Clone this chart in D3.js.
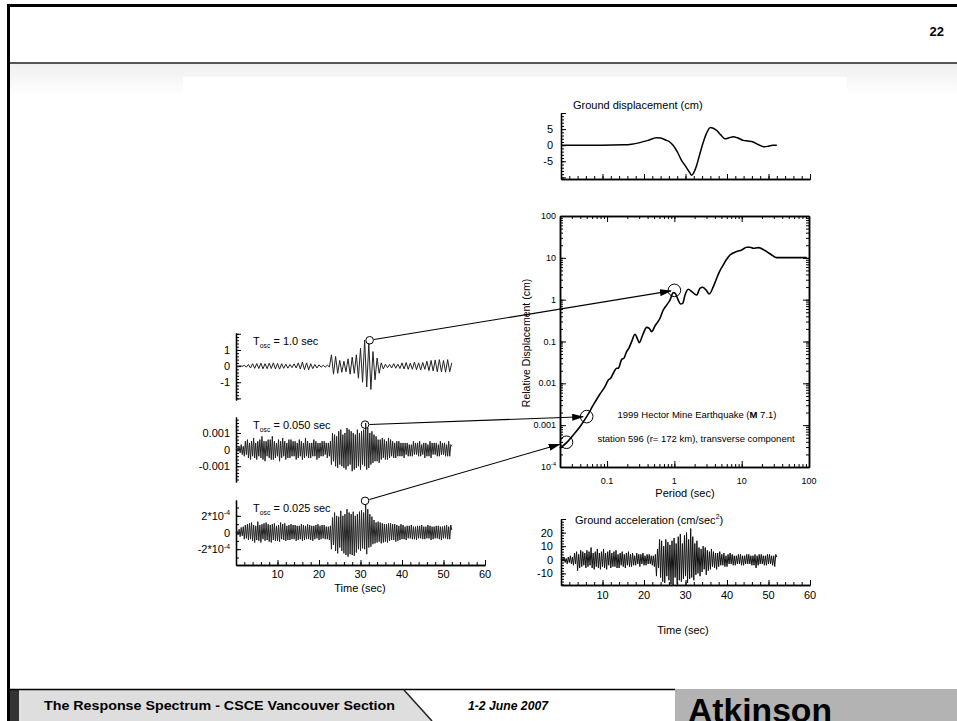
<!DOCTYPE html>
<html><head><meta charset="utf-8">
<script src="https://cdn.jsdelivr.net/npm/d3@7"></script>
<style>body{margin:0;background:#fff}svg{display:block;font-family:"Liberation Sans",Arial,Helvetica,sans-serif}</style>
</head><body><svg id="c" width="957" height="721"></svg>
<script>
// ---------------- DATA ----------------
const timeTicks = [10, 20, 30, 40, 50, 60];
const dtFast = 0.25;   // sample spacing (s) of the dense traces
const dtOsc = 0.5;     // sample spacing (s) of the 1.0 s oscillator trace

// Ground acceleration (cm/s^2)
const groundAccel = [
0,1,-1,2, -2,1,-3,2, -2,3,-3,2, -4,5,-3,6, -8,4,-6,7, -5,6,-4,5, -6,7,-5,6, -4,9,-6,5,
-7,6,-5,8, -6,5,-7,6, -5,8,-6,5, -7,6,-4,7, -6,5,-5,6, -5,7,-6,4, -6,5,-4,6, -5,4,-6,5,
-4,6,-5,4, -5,5,-4,3, -4,5,-3,4, -5,4,-3,5, -4,3,-4,4, -3,4,-3,3, -4,3,-5,4, -12,8,-6,15,
-13,14,-16,10, -17,15,-12,13, -15,11,-18,14, -19,16,-13,12, -18,17,-15,19, -16,12,-14,18, -12,20,-17,15, -14,23,-13,17,
-15,12,-11,14, -10,9,-12,8, -9,10,-7,9, -11,7,-8,6, -7,8,-5,6, -6,5,-7,5, -5,6,-4,4, -4,5,-5,3,
-5,4,-3,5, -3,4,-4,3, -4,3,-3,4, -3,4,-4,3, -4,3,-3,4, -3,4,-3,3, -4,3,-4,4, -6,3,-4,4,
-3,4,-3,3, -4,3,-4,4, -3,4,-3,3, -4,3,-5,4, 2];

// Ground displacement (cm)
const dispTime = [0,5,10,15,17,19,21,23,24,25.4,26,27,28,29,30,31,31.5,32,32.7,33.5,34.3,35,36,37.5,38.5,39.5,40.5,41.5,42.5,43.9,45,46.3,47.5,49.1,50,51,52];
const dispValue = [0,0,0,0.1,0.3,0.8,1.5,2.3,2.2,1.5,1.2,0,-2,-4.6,-6.5,-8.5,-9.3,-8.5,-6.2,-2.5,1,3.5,5.5,4.6,3.2,2,2.3,2.6,2.3,1.5,1.3,1,0.2,-0.5,-0.3,0,0];

// Oscillator response, T = 1.0 s (cm)
const osc100 = [
0,0, 0.02,-0.02, 0.05,-0.06, 0.1,-0.12, 0.15,-0.14, 0.16,-0.15, 0.18,-0.17, 0.15,-0.16, 0.18,-0.15, 0.2,-0.18,
0.17,-0.19, 0.15,-0.14, 0.12,-0.13, 0.1,-0.1, 0.14,-0.12, 0.2,-0.18, 0.25,-0.22, 0.2,-0.23, 0.15,-0.16, 0.1,-0.12,
0.08,-0.07, 0.05,-0.06, 0.06,-0.05, 0.7,-0.5, 0.6,-0.45, 0.35,-0.38, 0.3,-0.35, 0.45,-0.5, 0.55,-0.45, 0.7,-0.75,
1.1,-1.0, 1.6,-1.3, 1.4,-1.45, 0.9,-0.85, 0.5,-0.45, 0.2,-0.18, 0.12,-0.1, 0.1,-0.12, 0.15,-0.13, 0.12,-0.15,
0.2,-0.18, 0.22,-0.2, 0.18,-0.2, 0.25,-0.22, 0.2,-0.24, 0.22,-0.2, 0.3,-0.28, 0.35,-0.3, 0.38,-0.35, 0.4,-0.36,
0.35,-0.38, 0.4,-0.35, 0.2];

// Oscillator response, T = 0.050 s (units of 1e-4 cm)
const osc050Unit = 1e-4;
const osc050 = [
0,1,-1,2, -2,3,-3,2, -4,5,-3,6, -5,4,-6,5, -4,7,-5,4, -6,5,-4,6, -5,8,-6,5, -7,5,-4,6,
-5,6,-6,8, -6,5,-5,4, -4,6,-7,5, -5,7,-4,5, -6,4,-5,6, -5,6,-4,5, -4,5,-6,4, -5,6,-4,5,
-6,4,-5,7, -4,5,-5,4, -5,4,-4,6, -4,5,-6,4, -5,4,-4,5, -4,5,-3,4, -5,4,-4,5, -9,10,-7,9,
-10,8,-11,11, -9,12,-10,9, -11,10,-12,13, -10,12,-9,11, -13,10,-12,9, -11,12,-10,10, -12,11,-9,12, -10,16,-12,13,
-11,10,-9,11, -8,9,-7,8, -7,6,-8,6, -6,7,-5,6, -6,5,-6,7, -5,6,-4,5, -5,4,-5,5, -4,5,-4,4,
-4,4,-5,4, -3,4,-4,3, -4,3,-4,5, -3,4,-3,4, -4,5,-4,3, -3,4,-5,4, -4,3,-4,5, -5,4,-3,4,
-3,4,-4,3, -4,5,-3,4, -3,4,-4,3, -4,5,-4,3, 2];

// Oscillator response, T = 0.025 s (units of 1e-5 cm)
const osc025Unit = 1e-5;
const osc025 = [
0,2,-3,4, -5,6,-4,7, -8,9,-7,10, -9,11,-8,12, -10,9,-12,8, -9,13,-10,9, -12,10,-8,11, -10,12,-9,10,
-11,9,-12,10, -9,11,-10,8, -10,9,-11,12, -8,10,-9,11, -10,8,-9,9, -9,10,-8,9, -8,9,-10,8, -9,8,-8,10,
-10,9,-9,8, -8,10,-8,9, -9,8,-10,8, -8,9,-7,10, -9,8,-8,9, -7,9,-8,7, -8,7,-9,8, -20,18,-15,24,
-22,20,-25,19, -18,26,-22,20, -25,22,-27,28, -29,24,-26,22, -27,25,-28,20, -24,22,-20,25, -22,27,-19,24, -20,33,-26,28,
-18,22,-17,19, -14,15,-13,12, -12,13,-11,12, -13,11,-12,10, -11,10,-12,11, -10,11,-9,10, -9,10,-11,9, -10,8,-9,10,
-8,9,-8,7, -9,8,-7,8, -7,9,-8,7, -8,7,-9,8, -7,8,-7,9, -8,7,-8,7, -7,9,-7,8, -9,7,-8,7,
-7,8,-7,8, -8,7,-9,7, -7,8,-7,9, -8,7,-8,9, 3];

// Response spectrum (period s, relative displacement cm)
const specPeriod = [0.02,0.0251,0.0315,0.0396,0.0498,0.0625,0.0785,0.0931,0.1044,0.113,0.124,0.139,0.147,0.165,0.178,0.195,0.214,0.232,0.260,0.281,0.301,0.338,0.388,0.424,0.459,0.515,0.611,0.685,0.768,0.861,0.964,1.03,1.14,1.24,1.33,1.44,1.61,1.81,2.14,2.40,2.63,2.95,3.30,3.79,4.25,4.76,5.33,5.98,6.70,8.41,9.98,11.9,13.3,14.9,17.7,20.5,23.5,27.9,33.0,46.5,92.3];
const specDisp = [2.8e-4,3.82e-4,5.82e-4,9.2e-4,0.0016,0.00304,0.00557,0.00834,0.0120,0.0132,0.0174,0.0229,0.0229,0.0375,0.0397,0.0572,0.0727,0.0993,0.1486,0.119,0.094,0.143,0.218,0.207,0.172,0.235,0.359,0.567,0.747,0.98,1.47,1.42,0.98,0.789,0.819,1.29,1.77,1.56,1.29,1.87,1.98,1.71,1.37,2.05,3.24,4.95,6.76,9.23,11.7,14.1,15.4,17.9,17.9,16.9,17.5,16.0,14.1,11.7,10.1,10.1,10.1];

// Highlighted points: [time of peak (s), peak value] in each trace and [period, SD] on the spectrum
const markOsc = [[32.2, 1.6], [31.1, 15], [31.1, 38]];
const markSpec = [[1.0, 1.67], [0.0498, 0.0016], [0.025, 3.9e-4]];
const oscTitles = ["1.0", "0.050", "0.025"];

const specXTicks = [0.1, 1, 10, 100];
const specYTicks = [1e-4, 1e-3, 1e-2, 0.1, 1, 10, 100];
const specYLabels = [["10", "-4"], "0.001", "0.01", "0.1", "1", "10", "100"];

// ---------------- DRAWING ----------------
const svg = d3.select("#c");
const defs = svg.append("defs");
const grad = defs.append("linearGradient").attr("id", "bandg").attr("x1", 0).attr("x2", 0).attr("y1", 0).attr("y2", 1);
grad.append("stop").attr("offset", "0%").attr("stop-color", "#efefef");
grad.append("stop").attr("offset", "100%").attr("stop-color", "#ffffff");
defs.append("marker").attr("id", "arr").attr("markerUnits", "userSpaceOnUse")
  .attr("markerWidth", 12).attr("markerHeight", 7).attr("refX", 11).attr("refY", 3.5).attr("orient", "auto")
  .append("path").attr("d", "M0,0L12,3.5L0,7Z").attr("fill", "#000");

// slide frame
svg.append("rect").attr("x", 9).attr("y", 64).attr("width", 948).attr("height", 32).attr("fill", "url(#bandg)");
svg.append("rect").attr("x", 183).attr("y", 77).attr("width", 664).attr("height", 570).attr("fill", "#fff");
svg.append("rect").attr("x", 7).attr("y", 4).attr("width", 950).attr("height", 3).attr("fill", "#000");
svg.append("rect").attr("x", 7).attr("y", 4).attr("width", 3).attr("height", 717).attr("fill", "#000");
svg.append("rect").attr("x", 10).attr("y", 62).attr("width", 947).attr("height", 2).attr("fill", "#555");
svg.append("text").attr("x", 944).attr("y", 36).attr("text-anchor", "end").attr("font-weight", "bold").attr("font-size", 13).text("22");

// footer
svg.append("rect").attr("x", 10).attr("y", 690).attr("width", 9).attr("height", 31).attr("fill", "#333");
svg.append("path").attr("d", "M19,690L404,690L432,721L19,721Z").attr("fill", "#dedede");
svg.append("rect").attr("x", 675).attr("y", 689).attr("width", 282).attr("height", 32).attr("fill", "#b3b3b3");
svg.append("line").attr("x1", 10).attr("x2", 675).attr("y1", 689.5).attr("y2", 689.5).attr("stroke", "#000").attr("stroke-width", 1.5);
svg.append("line").attr("x1", 404).attr("y1", 690).attr("x2", 432).attr("y2", 721).attr("stroke", "#222").attr("stroke-width", 1.5);
svg.append("text").attr("x", 44).attr("y", 710).attr("font-weight", "bold").attr("font-size", 13)
  .attr("textLength", 351).attr("lengthAdjust", "spacingAndGlyphs").text("The Response Spectrum - CSCE Vancouver Section");
svg.append("text").attr("x", 468).attr("y", 710).attr("font-weight", "bold").attr("font-style", "italic").attr("font-size", 12)
  .attr("textLength", 80).attr("lengthAdjust", "spacingAndGlyphs").text("1-2 June 2007");
svg.append("text").attr("x", 688).attr("y", 722).attr("font-weight", "bold").attr("font-size", 34)
  .attr("textLength", 144).attr("lengthAdjust", "spacingAndGlyphs").text("Atkinson");

// rich text helper
function rich(g, x, y, parts, size, anchor) {
  const t = g.append("text").attr("x", x).attr("y", y).attr("font-size", size).attr("text-anchor", anchor || "start").attr("fill", "#000");
  let shift = 0;
  parts.forEach(p => {
    const [s, kind] = Array.isArray(p) ? p : [p, null];
    const ts = t.append("tspan").text(s);
    const target = kind === "sup" ? -0.42 * size : kind === "sub" ? 0.28 * size : 0;
    if (target - shift !== 0) ts.attr("dy", target - shift);
    shift = target;
    if (kind === "sup" || kind === "sub") ts.attr("font-size", size * 0.62);
    if (kind === "b") ts.attr("font-weight", "bold");
  });
  return t;
}
function styleAxis(g, w) {
  g.selectAll("path.domain").attr("stroke", "#000").attr("stroke-width", w || 1.3);
  g.selectAll(".tick line").attr("stroke", "#000").attr("stroke-width", 1);
  g.selectAll(".tick text").remove();
}
function stepValues(a, b, s) { const out = []; for (let v = a; v <= b + 1e-9; v += s) out.push(+v.toFixed(6)); return out; }
function linTrace(arr, dt) { return arr.map((v, i) => [i * dt, v]); }

const chart = svg.append("g");

// scales
const xL = d3.scaleLinear().domain([0, 60]).range([236, 485]);
const xR = d3.scaleLinear().domain([0, 60]).range([561, 810]);
const yOsc = [
  d3.scaleLinear().domain([-2.1, 2.05]).range([400, 333]),
  d3.scaleLinear().domain([-19.5, 19.6]).range([482, 417]),
  d3.scaleLinear().domain([-39, 39]).range([565, 500])
];
const yDisp = d3.scaleLinear().domain([-10.5, 10]).range([179, 113]);
const yAcc = d3.scaleLinear().domain([-18.5, 30]).range([585, 519]);
const xS = d3.scaleLog().domain([0.02, 100]).range([560, 809]);
const yS = d3.scaleLog().domain([1e-4, 100]).range([467, 216]);

function yAxisLin(x, scale, major, minor) {
  const g1 = chart.append("g").attr("transform", `translate(${x},0)`).call(d3.axisLeft(scale).tickValues(minor).tickSize(-3).tickSizeOuter(0));
  styleAxis(g1);
  const g2 = chart.append("g").attr("transform", `translate(${x},0)`).call(d3.axisLeft(scale).tickValues(major).tickSize(-5).tickSizeOuter(0));
  styleAxis(g2);
}
function xAxisTime(y, scale) {
  const g1 = chart.append("g").attr("transform", `translate(0,${y})`).call(d3.axisBottom(scale).tickValues(stepValues(0, 60, 2)).tickSize(-3).tickSizeOuter(0));
  styleAxis(g1);
  const g2 = chart.append("g").attr("transform", `translate(0,${y})`).call(d3.axisBottom(scale).tickValues(stepValues(0, 60, 10)).tickSize(-5).tickSizeOuter(0));
  styleAxis(g2);
}
const line = (xs, ys) => d3.line().x(d => xs(d[0])).y(d => ys(d[1]));

// ---- left oscillator panels ----
const oscData = [linTrace(osc100, dtOsc), linTrace(osc050, dtFast), linTrace(osc025, dtFast)];
const oscMajor = [[-2, -1, 0, 1, 2], [-20, -10, 0, 10, 20].filter(v => v >= -19.5 && v <= 19.6), [-20, 0, 20]];
const oscMinor = [stepValues(-2.0, 2.0, 0.2), stepValues(-18, 18, 2), stepValues(-30, 30, 10)];
const oscLabels = [
  [[1, ["1"]], [0, ["0"]], [-1, ["-1"]]],
  [[10, ["0.001"]], [0, ["0"]], [-10, ["-0.001"]]],
  [[20, ["2*10", ["-4", "sup"]]], [0, ["0"]], [-20, ["-2*10", ["-4", "sup"]]]]
];
oscData.forEach((d, i) => {
  const ys = yOsc[i];
  yAxisLin(xL(0), ys, oscMajor[i], oscMinor[i]);
  chart.append("path").datum(d).attr("d", line(xL, ys)).attr("fill", "none").attr("stroke", "#222").attr("stroke-width", 1).attr("stroke-linejoin", "round");
  oscLabels[i].forEach(([v, parts]) => rich(chart, 230, ys(v) + 4, parts, 11, "end"));
  rich(chart, 253, ys.range()[1] + 12, ["T", ["osc", "sub"], " = " + oscTitles[i] + " sec"], 11);
});
xAxisTime(565, xL);
timeTicks.forEach(t => chart.append("text").attr("x", xL(t)).attr("y", 578).attr("text-anchor", "middle").attr("font-size", 11).text(t));
chart.append("text").attr("x", 360).attr("y", 592).attr("text-anchor", "middle").attr("font-size", 11).text("Time (sec)");

// ---- ground displacement ----
yAxisLin(561, yDisp, [-10, -5, 0, 5, 10].filter(v => v >= -10.5 && v <= 10), stepValues(-10, 10, 1));
xAxisTime(179, xR);
chart.append("path").datum(dispTime.map((t, i) => [t, dispValue[i]])).attr("d", line(xR, yDisp).curve(d3.curveMonotoneX))
  .attr("fill", "none").attr("stroke", "#000").attr("stroke-width", 1.5);
[5, 0, -5].forEach(v => chart.append("text").attr("x", 553).attr("y", yDisp(v) + 4).attr("text-anchor", "end").attr("font-size", 11).text(v));
chart.append("text").attr("x", 573).attr("y", 109).attr("font-size", 11).text("Ground displacement (cm)");

// ---- ground acceleration ----
yAxisLin(561, yAcc, [-10, 0, 10, 20, 30], stepValues(-18, 30, 2));
xAxisTime(585, xR);
chart.append("path").datum(linTrace(groundAccel, dtFast)).attr("d", line(xR, yAcc)).attr("fill", "none").attr("stroke", "#111").attr("stroke-width", 1).attr("stroke-linejoin", "round");
[20, 10, 0, -10].forEach(v => chart.append("text").attr("x", 553).attr("y", yAcc(v) + 4).attr("text-anchor", "end").attr("font-size", 11).text(v));
timeTicks.forEach(t => chart.append("text").attr("x", xR(t)).attr("y", 599).attr("text-anchor", "middle").attr("font-size", 11).text(t));
rich(chart, 575, 524, ["Ground acceleration (cm/sec", ["2", "sup"], ")"], 11);
chart.append("text").attr("x", 683).attr("y", 634).attr("text-anchor", "middle").attr("font-size", 11).text("Time (sec)");

// ---- response spectrum ----
const logMinor = (lo, hi) => { const out = []; for (let e = -5; e <= 2; e++) for (let m = 1; m <= 9; m++) { const v = m * Math.pow(10, e); if (v >= lo * 0.999 && v <= hi * 1.001) out.push(v); } return out; };
const sxMinor = logMinor(0.02, 100), syMinor = logMinor(1e-4, 100);
[[d3.axisLeft, 560, yS, "y"], [d3.axisRight, 809, yS, "y"], [d3.axisTop, 216, xS, "x"], [d3.axisBottom, 467, xS, "x"]].forEach(([fn, pos, sc, k]) => {
  const tr = k === "y" ? `translate(${pos},0)` : `translate(0,${pos})`;
  const g1 = chart.append("g").attr("transform", tr).call(fn(sc).tickValues(k === "y" ? syMinor : sxMinor).tickSize(-3).tickSizeOuter(0));
  styleAxis(g1, 1.5);
  const g2 = chart.append("g").attr("transform", tr).call(fn(sc).tickValues(k === "y" ? specYTicks : specXTicks).tickSize(-6).tickSizeOuter(0));
  styleAxis(g2, 1.5);
});
specYTicks.forEach((v, i) => {
  const lab = specYLabels[i];
  rich(chart, 556, yS(v) + 3, Array.isArray(lab) ? [lab[0], [lab[1], "sup"]] : [lab], 9, "end");
});
specXTicks.forEach(v => chart.append("text").attr("x", xS(v)).attr("y", 484).attr("text-anchor", "middle").attr("font-size", 9).text(v));
chart.append("text").attr("x", 685).attr("y", 497).attr("text-anchor", "middle").attr("font-size", 11).text("Period (sec)");
chart.append("text").attr("transform", "translate(530,343) rotate(-90)").attr("text-anchor", "middle").attr("font-size", 10.5).text("Relative Displacement (cm)");
chart.append("path").datum(specPeriod.map((p, i) => [p, specDisp[i]])).attr("d", line(xS, yS).curve(d3.curveMonotoneX))
  .attr("fill", "none").attr("stroke", "#000").attr("stroke-width", 1.6);
rich(chart, 697, 418, ["1999 Hector Mine Earthquake (", ["M", "b"], " 7.1)"], 9.5, "middle");
rich(chart, 696, 442, ["station 596 (r= 172 km), transverse component"], 9.5, "middle");

// ---- markers and arrows ----
markOsc.forEach(([t, v], i) => {
  const cx = xL(t), cy = yOsc[i](v);
  chart.append("circle").attr("cx", cx).attr("cy", cy).attr("r", 3.8).attr("fill", "none").attr("stroke", "#000").attr("stroke-width", 1);
  const [p, s] = markSpec[i];
  const tx = xS(p), ty = yS(s);
  chart.append("circle").attr("cx", tx).attr("cy", ty).attr("r", 6.3).attr("fill", "none").attr("stroke", "#000").attr("stroke-width", 1);
  const dx = tx - cx, dy = ty - cy, L = Math.hypot(dx, dy);
  const ux = dx / L, uy = dy / L;
  const endOff = i === 2 ? 7 : 3.5;
  chart.append("line").attr("x1", cx + ux * 4.5).attr("y1", cy + uy * 4.5).attr("x2", tx - ux * endOff).attr("y2", ty - uy * endOff)
    .attr("stroke", "#000").attr("stroke-width", 1.1).attr("marker-end", "url(#arr)");
});
</script>
</body></html>
